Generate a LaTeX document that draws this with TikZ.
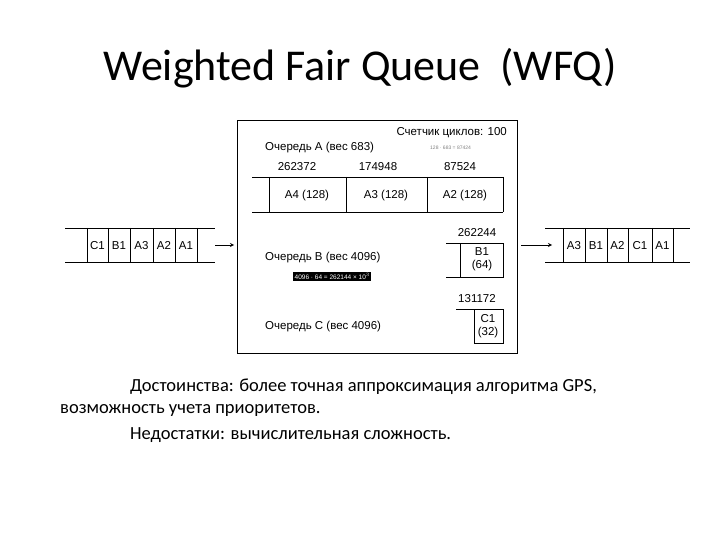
\documentclass[tikz,border=0pt]{standalone}
\usepackage{fontspec}
\setmainfont{Carlito}
\newfontfamily\arial{Liberation Sans}
\begin{document}
\begin{tikzpicture}[x=1pt,y=-1pt,
  lbl/.style={font=\arial\fontsize{11.5}{12}\selectfont,inner sep=0pt},
  cell/.style={font=\arial\fontsize{11.5}{12}\selectfont,inner sep=0pt,anchor=base},
  body/.style={font=\fontsize{18.5}{20}\selectfont,inner sep=0pt,anchor=west},
  ln/.style={line width=0.8pt}]
\useasboundingbox (0,0) rectangle (720,540);
\node[font=\fontsize{44}{46}\selectfont] (title) at (360,68) {Weighted Fair Queue\ \ (WFQ)};
% main box
\draw[line width=1pt] (237,121) rectangle (517,353);
\node[lbl,anchor=east] (cnt) at (507,133) {Счетчик циклов: 100};
\node[lbl,anchor=west] (qa) at (265,148) {Очередь А (вес 683)};
\node[lbl,anchor=west,font=\arial\fontsize{5}{6}\selectfont,gray] (fa) at (430,148) {128 · 683 = 87424};
\node[lbl] (n1) at (297,167) {262372};
\node[lbl] (n2) at (378,167) {174948};
\node[lbl] (n3) at (460,167) {87524};
\draw[ln] (252,177) -- (503,177) (252,212) -- (503,212);
\foreach \x in {269,346,427,503} \draw[ln] (\x,177) -- (\x,212);
\node[cell] (a4) at (307,199) {A4 (128)};
\node[cell] (a3) at (386,199) {A3 (128)};
\node[cell] (a2) at (465,199) {A2 (128)};
\node[lbl] (n4) at (477,233) {262244};
\draw[ln] (446,243) -- (503,243) -- (503,277) -- (446,277) (460,243) -- (460,277);
\node[lbl,align=center] (b1) at (482,259) {B1\\[1pt](64)};
\node[lbl,anchor=west] (qb) at (265,258) {Очередь В (вес 4096)};
\node[fill=black,text=white,font=\arial\fontsize{6.5}{7}\selectfont,inner sep=1.5pt,anchor=west] (fb) at (293,276.5) {4096 · 64 = 262144 × 10$^3$};
\node[lbl] (n5) at (477,299) {131172};
\draw[ln] (456,309) -- (503,309) -- (503,343) -- (474,343) (474,309) -- (474,343);
\node[lbl,align=center] (c1) at (488,326) {C1\\[1pt](32)};
\node[lbl,anchor=west] (qc) at (265,327) {Очередь С (вес 4096)};
% left queue
\draw[ln] (65,228) -- (215,228) (65,262) -- (215,262);
\foreach \x in {87,108,130,153,175,197} \draw[ln] (\x,228) -- (\x,262);
\node[cell] (l1) at (97.5,249) {C1};
\node[cell] (l2) at (119,249) {B1};
\node[cell] (l3) at (141.5,249) {A3};
\node[cell] (l4) at (164,249) {A2};
\node[cell] (l5) at (186,249) {A1};
\coordinate (la1) at (215,245); \coordinate (la2) at (234,245);
\draw[ln,-stealth] (la1) -- (la2);
% right queue
\draw[ln] (545,228) -- (690,228) (545,262) -- (690,262);
\foreach \x in {563,585,607,628,652,673} \draw[ln] (\x,228) -- (\x,262);
\node[cell] (r1) at (574,249) {A3};
\node[cell] (r2) at (596,249) {B1};
\node[cell] (r3) at (617.5,249) {A2};
\node[cell] (r4) at (640,249) {C1};
\node[cell] (r5) at (662.5,249) {A1};
\coordinate (ra1) at (521,245); \coordinate (ra2) at (552,245);
\draw[ln,-stealth] (ra1) -- (ra2);
% text
\node[body] (t1) at (130,387) {Достоинства: более точная аппроксимация алгоритма GPS,};
\node[body] (t2) at (60,410) {возможность учета приоритетов.};
\node[body] (t3) at (130,435) {Недостатки: вычислительная сложность.};
\end{tikzpicture}
\end{document}
